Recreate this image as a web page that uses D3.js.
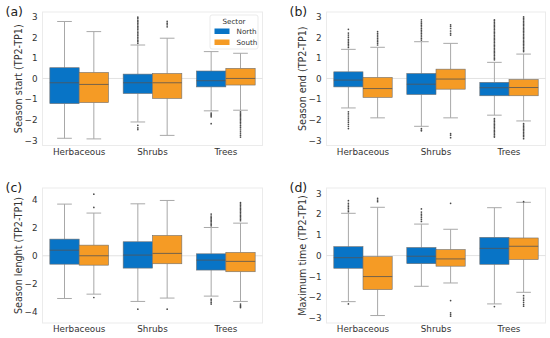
<!DOCTYPE html>
<html>
<head>
  <meta charset="utf-8">
  <script src="https://cdn.jsdelivr.net/npm/d3@7"></script>
  <style>
    body { margin: 0; background: #fff; }
    svg { font-family: "DejaVu Sans", sans-serif; }
  </style>
</head>
<body>
<script>
// categories and groups
var categories = ["Herbaceous", "Shrubs", "Trees"];
var sectors = ["North", "South"];
var sectorColors = ["#0874c6", "#f59b25"];

// box stats: [lower whisker, q1, median, q3, upper whisker]
// order: Herb-North, Herb-South, Shrubs-North, Shrubs-South, Trees-North, Trees-South
var seasonStart = [
  [-2.9, -1.22, -0.21, 0.52, 2.76],
  [-2.93, -1.17, -0.29, 0.29, 2.27],
  [-2.11, -0.73, -0.21, 0.21, 1.62],
  [-2.76, -0.97, -0.21, 0.24, 1.95],
  [-1.57, -0.41, -0.11, 0.36, 1.3],
  [-1.54, -0.32, 0.0, 0.49, 1.22]
];
var seasonStartOut = [
  [],
  [],
  [1.7, 1.78, 1.85, 1.92, 2.0, 2.08, 2.15, 2.22, 2.3, 2.38, 2.45, 2.52, 2.6, 2.68, 2.75, 2.82, 2.9, 2.97, -2.27, -2.4, -2.48],
  [2.5, 2.6, 2.68, 2.77],
  [-1.68, -1.74, -1.8, -1.86, -2.19],
  [-1.62, -1.68, -1.74, -1.8, -1.86, -1.92, -1.98, -2.05, -2.12, -2.2, -2.28, -2.36, -2.45, -2.55, -2.65, -2.75, -2.84]
];

var seasonEnd = [
  [-1.43, -0.41, -0.08, 0.32, 1.41],
  [-1.91, -0.92, -0.49, 0.05, 1.51],
  [-2.32, -0.78, -0.28, 0.24, 1.78],
  [-1.91, -0.52, -0.03, 0.45, 1.7],
  [-1.78, -0.84, -0.45, -0.19, 0.78],
  [-2.06, -0.84, -0.44, -0.05, 1.18]
];
var seasonEndOut = [
  [1.5, 1.58, 1.66, 1.74, 1.82, 1.9, 2.0, 2.1, 2.2, 2.38, -1.62, -1.72, -1.82, -1.92, -2.02, -2.12, -2.22, -2.32, -2.43],
  [1.62, 1.7, 1.78, 1.86, 1.94, 2.02, 2.1, 2.18, 2.27],
  [1.86, 1.94, 2.02, 2.1, 2.18, 2.26, 2.34, 2.42, 2.5, 2.58, 2.66, 2.74, 2.84, -2.43, -2.5, -2.54],
  [2.1, 2.18, 2.3, 2.42, 2.52, 2.6, -2.67, -2.75, -2.87],
  [0.9, 0.97, 1.04, 1.11, 1.18, 1.25, 1.32, 1.39, 1.46, 1.53, 1.6, 1.67, 1.74, 1.81, 1.88, 1.95, 2.02, 2.09, 2.16, 2.23, 2.3, 2.37, 2.44, 2.51, 2.58, 2.65, 2.72, 2.79, 2.84,
   -1.95, -2.02, -2.09, -2.16, -2.23, -2.3, -2.37, -2.44, -2.51, -2.58, -2.65, -2.72, -2.79, -2.84],
  [1.3, 1.37, 1.44, 1.51, 1.58, 1.65, 1.72, 1.79, 1.86, 1.93, 2.0, 2.07, 2.14, 2.21, 2.28, 2.35, 2.42, 2.49, 2.56, 2.63, 2.7, 2.77, 2.84, 2.91, 2.98,
   -2.19, -2.26, -2.33, -2.4, -2.47, -2.54, -2.61, -2.68, -2.75, -2.82, -2.92]
];

var seasonLength = [
  [-3.05, -0.6, 0.4, 1.19, 3.69],
  [-2.74, -0.67, 0.0, 0.76, 3.05],
  [-3.26, -0.88, 0.05, 1.0, 3.71],
  [-3.02, -0.57, 0.17, 1.45, 3.95],
  [-2.88, -1.02, -0.31, 0.14, 2.02],
  [-3.26, -1.14, -0.4, 0.24, 2.33]
];
var seasonLengthOut = [
  [],
  [4.4, 3.45, -2.98],
  [-3.81],
  [-3.81],
  [2.14, 2.24, 2.34, 2.44, 2.54, 2.64, 2.74, 2.84, 2.98, -3.1, -3.22, -3.34, -3.45],
  [2.5, 2.6, 2.7, 2.8, 2.9, 3.0, 3.1, 3.2, 3.3, 3.4, 3.5, 3.6, 3.7, 3.8, -3.45, -3.55, -3.62, -3.7]
];

var maxTime = [
  [-2.22, -0.61, -0.1, 0.43, 2.04],
  [-2.89, -1.64, -1.01, -0.05, 2.33],
  [-1.48, -0.39, -0.03, 0.39, 1.52],
  [-1.32, -0.51, -0.16, 0.29, 1.27],
  [-2.33, -0.42, 0.35, 0.88, 2.31],
  [-1.77, -0.19, 0.45, 0.85, 2.57]
];
var maxTimeOut = [
  [2.12, 2.2, 2.28, 2.36, 2.44, 2.52, 2.65, -2.33],
  [2.6, 2.68, 2.76],
  [1.65, 1.74, 1.83, 1.92, 2.0, 2.1, 2.25],
  [2.52, -2.17, -2.76, -2.84, -2.92],
  [-2.46],
  [2.6, -1.93, -2.05, -2.15, -2.25, -2.35, -2.44]
];

var yTicks3 = [-3, -2, -1, 0, 1, 2, 3];
var yTicks4 = [-4, -2, 0, 2, 4];

var panels = [
  {tag: "(a)", label: "Season start (TP2-TP1)", stats: seasonStart, out: seasonStartOut,
   box: [42.5, 12, 262.5, 145.5], dom: [-3.25, 3.22], ticks: yTicks3, legend: true},
  {tag: "(b)", label: "Season end (TP2-TP1)", stats: seasonEnd, out: seasonEndOut,
   box: [326.5, 12, 545.5, 145.5], dom: [-3.25, 3.22], ticks: yTicks3},
  {tag: "(c)", label: "Season lenght (TP2-TP1)", stats: seasonLength, out: seasonLengthOut,
   box: [42.5, 188, 262.5, 323], dom: [-4.8, 4.84], ticks: yTicks4},
  {tag: "(d)", label: "Maximum time (TP2-TP1)", stats: maxTime, out: maxTimeOut,
   box: [326.5, 188, 545.5, 323], dom: [-3.25, 3.26], ticks: yTicks3}
];

var svg = d3.select("body").append("svg")
  .attr("width", 550).attr("height", 338);

panels.forEach(function(p) {
  var L = p.box[0], T = p.box[1], R = p.box[2], B = p.box[3];
  var g = svg.append("g");

  var x = d3.scaleBand().domain(categories).range([L, R]);
  var bw = x.bandwidth();
  var xs = d3.scaleBand().domain(sectors).range([0.1 * bw, 0.9 * bw]);
  var y = d3.scaleLinear().domain(p.dom).range([B, T]);

  // frame
  g.append("rect")
    .attr("x", L).attr("y", T).attr("width", R - L).attr("height", B - T)
    .attr("fill", "none").attr("stroke", "#ebebeb").attr("stroke-width", 1);

  // zero line
  g.append("line")
    .attr("x1", L).attr("x2", R).attr("y1", y(0)).attr("y2", y(0))
    .attr("stroke", "#e2e2e2").attr("stroke-width", 1);

  // y axis
  var ya = g.append("g").attr("transform", "translate(" + L + ",0)")
    .call(d3.axisLeft(y).tickValues(p.ticks).tickFormat(d3.format("d")).tickSize(0).tickPadding(5));
  ya.select(".domain").remove();
  ya.selectAll("text").attr("font-size", 8.8).attr("fill", "#333")
    .attr("font-family", "DejaVu Sans, sans-serif");

  // x axis
  var xa = g.append("g").attr("transform", "translate(0," + B + ")")
    .call(d3.axisBottom(x).tickSize(0).tickPadding(3));
  xa.select(".domain").remove();
  xa.selectAll("text").attr("font-size", 8.8).attr("fill", "#333")
    .attr("font-family", "DejaVu Sans, sans-serif");

  // y label
  g.append("text")
    .attr("transform", "translate(" + (L - 21) + "," + ((T + B) / 2) + ") rotate(-90)")
    .attr("text-anchor", "middle")
    .attr("font-size", 9.6).attr("fill", "#333")
    .text(p.label);

  // panel tag
  g.append("text")
    .attr("x", L - 37).attr("y", T + 4)
    .attr("font-size", 12.5).attr("fill", "#222")
    .text(p.tag);

  // boxes
  var rows = [];
  categories.forEach(function(c, ci) {
    sectors.forEach(function(s, si) {
      var k = ci * 2 + si;
      rows.push({cat: c, sec: s, si: si, st: p.stats[k], out: p.out[k]});
    });
  });

  var boxW = xs.bandwidth();
  var bx = g.selectAll(".bx").data(rows).enter().append("g")
    .attr("transform", function(d) { return "translate(" + (x(d.cat) + xs(d.sec)) + ",0)"; });

  var cx = boxW / 2, capW = boxW / 4;
  // whiskers
  bx.append("line").attr("x1", cx).attr("x2", cx)
    .attr("y1", function(d) { return y(d.st[0]); }).attr("y2", function(d) { return y(d.st[1]); })
    .attr("stroke", "#a8a8a8").attr("stroke-width", 1);
  bx.append("line").attr("x1", cx).attr("x2", cx)
    .attr("y1", function(d) { return y(d.st[3]); }).attr("y2", function(d) { return y(d.st[4]); })
    .attr("stroke", "#a8a8a8").attr("stroke-width", 1);
  // caps
  [0, 4].forEach(function(i) {
    bx.append("line").attr("x1", cx - capW).attr("x2", cx + capW)
      .attr("y1", function(d) { return y(d.st[i]); }).attr("y2", function(d) { return y(d.st[i]); })
      .attr("stroke", "#a8a8a8").attr("stroke-width", 1);
  });
  // box
  bx.append("rect")
    .attr("x", 0).attr("width", boxW)
    .attr("y", function(d) { return y(d.st[3]); })
    .attr("height", function(d) { return y(d.st[1]) - y(d.st[3]); })
    .attr("fill", function(d) { return sectorColors[d.si]; })
    .attr("stroke", "#6f6f6f").attr("stroke-width", 0.6);
  // median
  bx.append("line").attr("x1", 0).attr("x2", boxW)
    .attr("y1", function(d) { return y(d.st[2]); }).attr("y2", function(d) { return y(d.st[2]); })
    .attr("stroke", "#555").attr("stroke-opacity", 0.8).attr("stroke-width", 1);
  // outliers
  bx.selectAll("circle").data(function(d) { return d.out; }).enter().append("circle")
    .attr("cx", cx).attr("cy", function(v) { return y(v); })
    .attr("r", 0.85).attr("fill", "#4a4a4a");

  if (p.legend) {
    var lg = g.append("g");
    lg.append("rect").attr("x", 210).attr("y", 15).attr("width", 48).attr("height", 34)
      .attr("rx", 2).attr("fill", "#fff").attr("fill-opacity", 0.85)
      .attr("stroke", "#e6e6e6").attr("stroke-width", 0.8);
    lg.append("text").attr("x", 234).attr("y", 24).attr("text-anchor", "middle")
      .attr("font-size", 7.2).attr("fill", "#333").text("Sector");
    sectors.forEach(function(s, i) {
      lg.append("rect").attr("x", 214.5).attr("y", 28.5 + i * 11).attr("width", 15).attr("height", 5.5)
        .attr("fill", sectorColors[i]);
      lg.append("text").attr("x", 236.5).attr("y", 34 + i * 11)
        .attr("font-size", 7.2).attr("fill", "#333").text(s);
    });
  }
});
</script>
</body>
</html>
